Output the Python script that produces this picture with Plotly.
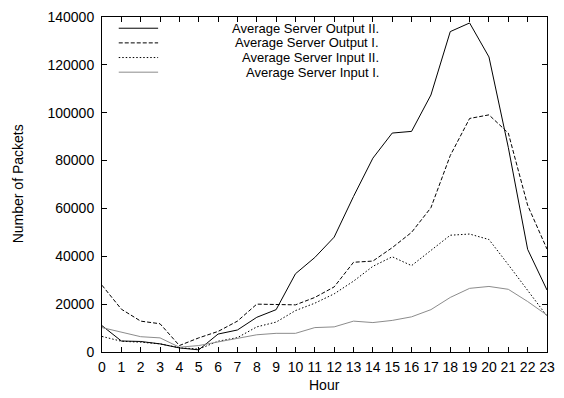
import plotly.graph_objects as go

# Hourly packet counts per series
hours = list(range(24))
output_ii = [11000, 4600, 4400, 3400, 1700, 900, 7500, 9200, 14500, 17700, 32700, 39500,
             48000, 65000, 81000, 91500, 92200, 107400, 133900, 137500, 123300, 85500, 42900, 25900]
output_i = [27900, 17900, 12900, 11800, 2700, 5900, 8600, 12900, 20000, 20000, 19700, 22800,
            27200, 37500, 38000, 43600, 50000, 60300, 82100, 97600, 99100, 91500, 61300, 43000]
input_ii = [6500, 4500, 4100, 3400, 1800, 1200, 4500, 6000, 10500, 12500, 17300, 20400,
            24300, 29600, 35800, 39800, 36100, 42600, 48800, 49300, 47000, 36500, 25700, 15000]
input_i = [10200, 8200, 6400, 5900, 2000, 2700, 4100, 5700, 7200, 7800, 7800, 10200,
           10500, 12900, 12300, 13200, 14700, 17700, 22800, 26600, 27400, 26200, 21100, 15400]

series_names = ["Average Server Output II.", "Average Server Output I.",
                "Average Server Input II.", "Average Server Input I."]
y_ticks = [0, 20000, 40000, 60000, 80000, 100000, 120000, 140000]

FONT = "Liberation Sans, Arial, sans-serif"
styles = [
    dict(color="black", width=1, dash="solid"),
    dict(color="black", width=1, dash="4px,2px"),
    dict(color="black", width=1, dash="1.5px,2px"),
    dict(color="#8c8c8c", width=1, dash="solid"),
]

fig = go.Figure()
for name, values, st in zip(series_names, [output_ii, output_i, input_ii, input_i], styles):
    fig.add_trace(go.Scatter(x=hours, y=values, mode="lines", name=name,
                             line=st, showlegend=False))

# Key in the upper-left corner: sample line on the left, right-aligned label
W, H = 564, 398
L, R, T, B = 102, 10, 9, 46
pw, ph = W - L - R, H - T - B
row_px = [20.5, 35.5, 50.5, 65.5]
for name, st, ypx in zip(series_names, styles, row_px):
    yp = 1 - (ypx - T) / ph
    x0 = (119 - L) / pw
    x1 = (159 - L) / pw
    fig.add_shape(type="line", xref="paper", yref="paper", x0=x0, x1=x1, y0=yp, y1=yp,
                  line=st)
    fig.add_annotation(xref="paper", yref="paper", x=(384 - L) / pw, y=yp,
                       xanchor="right", yanchor="middle", text=name, showarrow=False,
                       borderpad=0,
                       font=dict(family=FONT, size=13, color="black"))

axis_common = dict(showline=True, linecolor="black", linewidth=1, mirror="ticks",
                   ticks="inside", ticklen=5, tickcolor="black", showgrid=False,
                   zeroline=False, tickfont=dict(family=FONT, size=14, color="black"))

fig.update_xaxes(range=[0, 23], tickmode="array", tickvals=hours,
                 ticktext=[str(h) for h in hours], ticklabelstandoff=2, **axis_common)
fig.update_yaxes(range=[0, 140000], tickmode="array", tickvals=y_ticks,
                 ticktext=[str(v) for v in y_ticks], ticklabelstandoff=4, **axis_common)

fig.add_annotation(xref="paper", yref="paper", x=0.5, y=-(386 - (H - B)) / ph,
                   text="Hour", showarrow=False, xanchor="center", yanchor="middle",
                   font=dict(family=FONT, size=14, color="black"))
fig.add_annotation(xref="paper", yref="paper", x=-(L - 17) / pw, y=1 - (180 - T) / ph,
                   text="Number of Packets", showarrow=False, textangle=-90,
                   xanchor="center", yanchor="middle",
                   font=dict(family=FONT, size=14, color="black"))

fig.update_layout(width=W, height=H, margin=dict(l=L, r=R, t=T, b=B),
                  plot_bgcolor="white", paper_bgcolor="white",
                  font=dict(family=FONT, size=14, color="black"))

fig.write_html("out.html")
